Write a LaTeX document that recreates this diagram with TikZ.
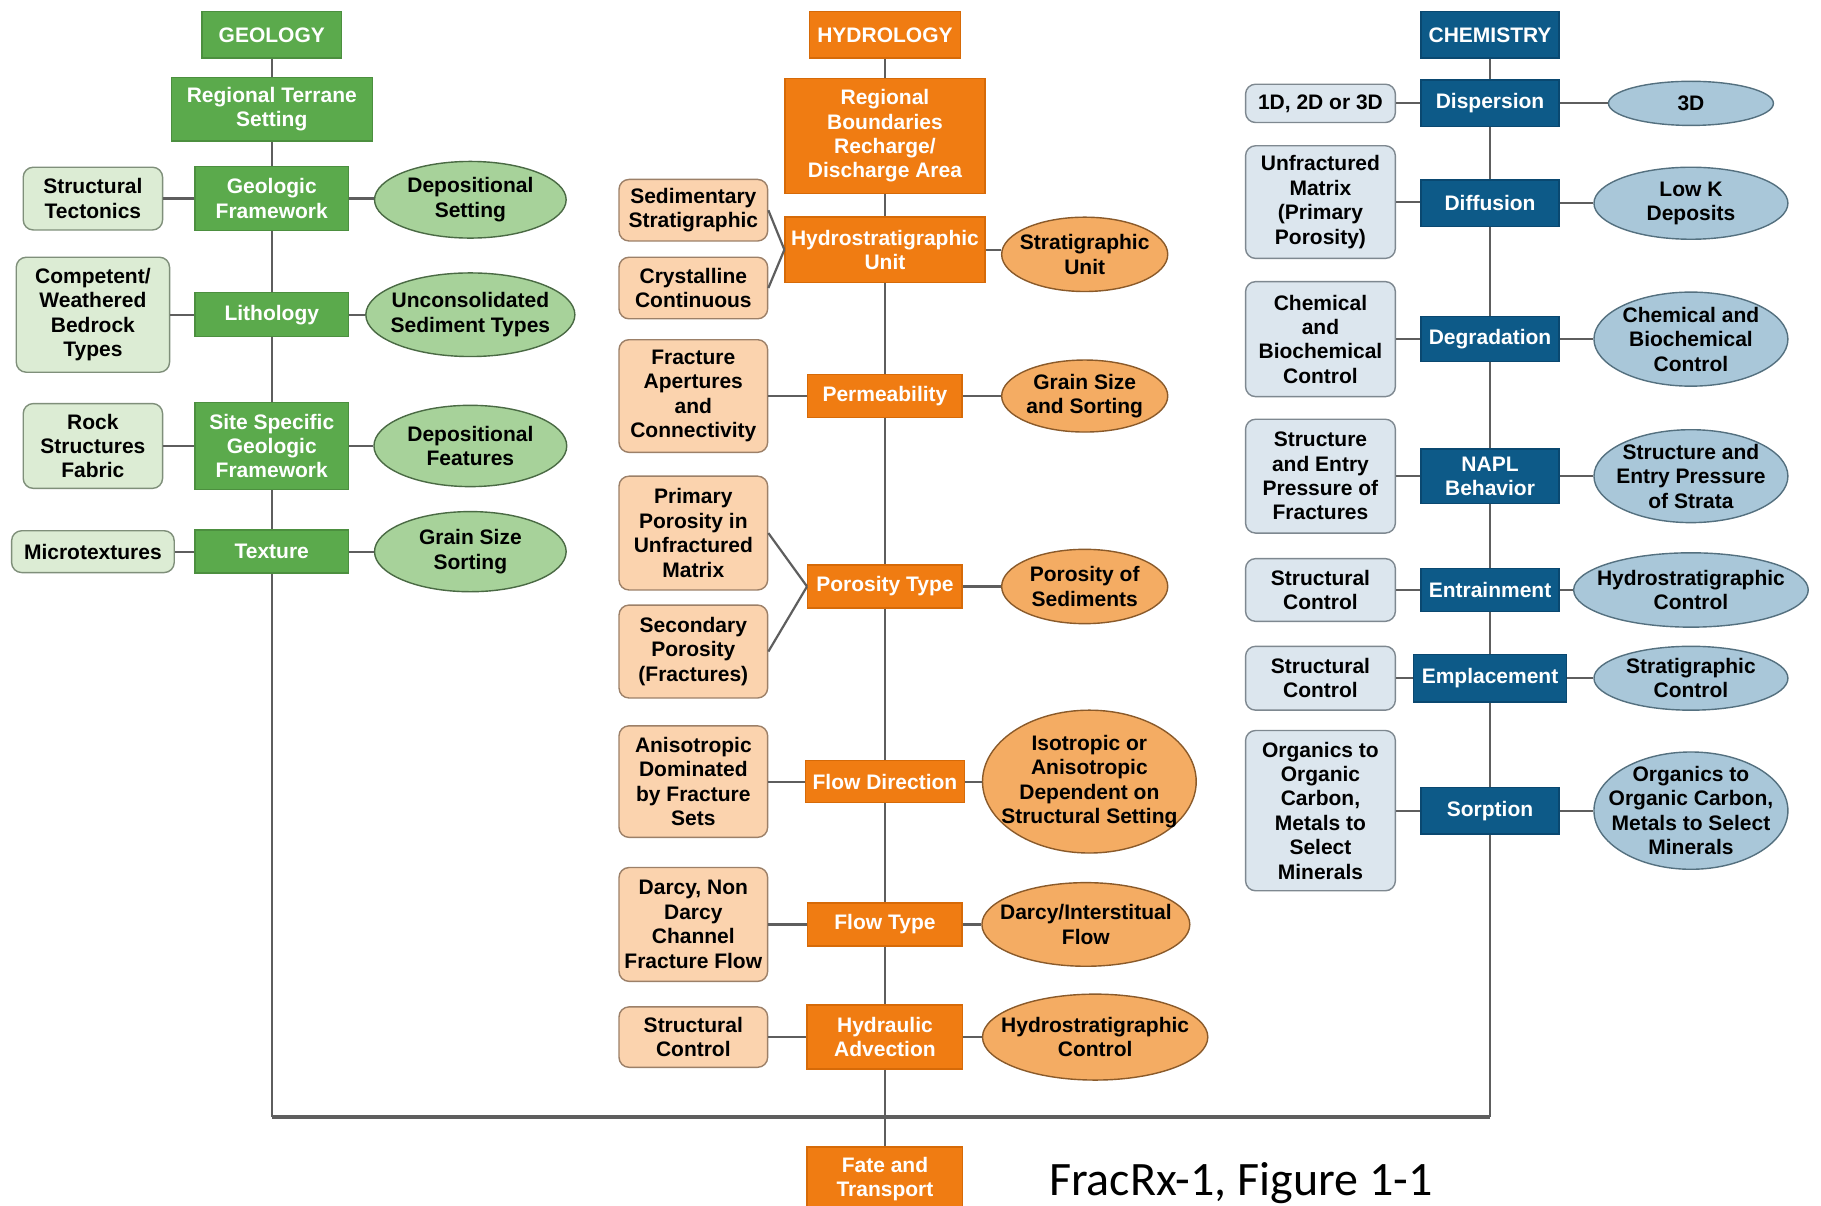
\documentclass[tikz,border=0pt]{standalone}
\usepackage{fontspec}
\setmainfont{Liberation Sans}
\newfontfamily\capfont{Carlito}
\usetikzlibrary{shapes.geometric}
\definecolor{geoM}{HTML}{5BAA4C}
\definecolor{geoMd}{HTML}{4C8F3F}
\definecolor{geoL}{HTML}{DCECD4}
\definecolor{geoLd}{HTML}{7F8F7A}
\definecolor{geoE}{HTML}{A7D29A}
\definecolor{geoEd}{HTML}{4A6A44}
\definecolor{hydM}{HTML}{F07C12}
\definecolor{hydMd}{HTML}{D66A08}
\definecolor{hydL}{HTML}{FBD3AE}
\definecolor{hydLd}{HTML}{9C8068}
\definecolor{hydE}{HTML}{F4AC63}
\definecolor{hydEd}{HTML}{8A5A2A}
\definecolor{chmM}{HTML}{0D5A88}
\definecolor{chmMd}{HTML}{0A4870}
\definecolor{chmL}{HTML}{DCE6EE}
\definecolor{chmLd}{HTML}{7E8890}
\definecolor{chmE}{HTML}{A9C7D9}
\definecolor{chmEd}{HTML}{54707F}
\definecolor{lineC}{HTML}{5E5E5E}
% ellipse of fixed size with its text set in a separate node at its centre
\newcommand\EllNode[6]{%
  \node[#1, sz={#2}{#3}] (#4) at (#5) {};
  \node[base] (#4T) at (#4.center) {#6};}
\begin{document}
\begin{tikzpicture}[x=0.5807pt,y=-0.5807pt,
  base/.style={align=center, inner sep=0pt, font=\fontsize{10.5}{12.2}\selectfont\bfseries, line width=0.7pt},
  sz/.style 2 args={minimum width=#1*0.5807pt, minimum height=#2*0.5807pt},
  geomain/.style={base, rectangle, fill=geoM, draw=geoMd, text=white},
  geoside/.style={base, rectangle, rounded corners=5pt, fill=geoL, draw=geoLd, text=black},
  geoell/.style={base, ellipse, fill=geoE, draw=geoEd, text=black},
  hydmain/.style={base, rectangle, fill=hydM, draw=hydMd, text=white},
  hydside/.style={base, rectangle, rounded corners=5pt, fill=hydL, draw=hydLd, text=black},
  hydell/.style={base, ellipse, fill=hydE, draw=hydEd, text=black},
  chmmain/.style={base, rectangle, fill=chmM, draw=chmMd, text=white},
  chmside/.style={base, rectangle, rounded corners=5pt, fill=chmL, draw=chmLd, text=black},
  chmell/.style={base, ellipse, fill=chmE, draw=chmEd, text=black},
  conn/.style={draw=lineC, line width=1.1pt},
  bottomline/.style={draw=lineC, line width=1.8pt}
]
\useasboundingbox (0,0) rectangle (1568,1038);
\fill[white] (0,0) rectangle (1568,1038);
\clip (0,0) rectangle (1568,1038);

% ---------------- GEOLOGY ----------------
\node[geomain, sz={120}{40}] (geo) at (234,30) {GEOLOGY};
\node[geomain, sz={173}{55}] (grts) at (234,94) {Regional Terrane\\Setting};
\node[geomain, sz={132}{55}] (ggf) at (234,171) {Geologic\\Framework};
\node[geoside, sz={120}{54}] (gst) at (80,171) {Structural\\Tectonics};
\EllNode{geoell}{165}{66}{gds}{405,172}{Depositional\\Setting}
\node[geomain, sz={132}{38}] (glith) at (234,271) {Lithology};
\node[geoside, sz={132}{99}] (gcwb) at (80,271) {Competent/\\Weathered\\Bedrock\\Types};
\EllNode{geoell}{180}{72}{gust}{405,271}{Unconsolidated\\Sediment Types}
\node[geomain, sz={132}{75}] (gssf) at (234,384) {Site Specific\\Geologic\\Framework};
\node[geoside, sz={120}{73}] (grsf) at (80,384) {Rock\\Structures\\Fabric};
\EllNode{geoell}{166}{70}{gdf}{405,384}{Depositional\\Features}
\node[geomain, sz={132}{37}] (gtex) at (234,475) {Texture};
\node[geoside, sz={140}{36}] (gmic) at (80,475) {Microtextures};
\EllNode{geoell}{165}{69}{ggss}{405,475}{Grain Size\\Sorting}

% ---------------- HYDROLOGY ----------------
\node[hydmain, sz={130}{40}] (hyd) at (762,30) {HYDROLOGY};
\node[hydmain, sz={172}{99}] (hrb) at (762,117) {Regional\\Boundaries\\Recharge/\\Discharge Area};
\node[hydmain, sz={172}{56}] (hhsu) at (762,215) {Hydrostratigraphic\\Unit};
\node[hydside, sz={128}{53}] (hsed) at (597,181) {Sedimentary\\Stratigraphic};
\node[hydside, sz={128}{53}] (hcry) at (597,248) {Crystalline\\Continuous};
\EllNode{hydell}{143}{64}{hsu}{934,219}{Stratigraphic\\Unit}
\node[hydmain, sz={133}{37}] (hperm) at (762,341) {Permeability};
\node[hydside, sz={128}{97}] (hfac) at (597,341) {Fracture\\Apertures\\and\\Connectivity};
\EllNode{hydell}{143}{62}{hgss}{934,341}{Grain Size\\and Sorting}
\node[hydmain, sz={133}{37}] (hpor) at (762,505) {Porosity Type};
\node[hydside, sz={128}{98}] (hprim) at (597,459) {Primary\\Porosity in\\Unfractured\\Matrix};
\node[hydside, sz={128}{80}] (hsec) at (597,561) {Secondary\\Porosity\\(Fractures)};
\EllNode{hydell}{143}{64}{hpos}{934,505}{Porosity of\\Sediments}
\node[hydmain, sz={137}{36}] (hfd) at (762,673) {Flow Direction};
\node[hydside, sz={128}{96}] (hadf) at (597,673) {Anisotropic\\Dominated\\by Fracture\\Sets};
\EllNode{hydell}{184}{123}{hiso}{938,673}{Isotropic or\\Anisotropic\\Dependent on\\Structural Setting}
\node[hydmain, sz={133}{37}] (hft) at (762,796) {Flow Type};
\node[hydside, sz={128}{98}] (hdar) at (597,796) {Darcy, Non\\Darcy\\Channel\\Fracture Flow};
\EllNode{hydell}{179}{72}{hdif}{935,796}{Darcy/Interstitual\\Flow}
\node[hydmain, sz={134}{55}] (hadv) at (762,893) {Hydraulic\\Advection};
\node[hydside, sz={128}{52}] (hstc) at (597,893) {Structural\\Control};
\EllNode{hydell}{194}{74}{hhsc}{943,893}{Hydrostratigraphic\\Control}
\node[hydmain, anchor=north, minimum width=134*0.5807pt, inner ysep=5pt] (fate) at (762,987) {Fate and\\Transport};

% ---------------- CHEMISTRY ----------------
\node[chmmain, sz={119}{40}] (chem) at (1283,30) {CHEMISTRY};
\node[chmmain, sz={119}{40}] (cdisp) at (1283,89) {Dispersion};
\node[chmside, sz={129}{33}] (c123) at (1137,89) {1D, 2D or 3D};
\EllNode{chmell}{142}{38}{c3d}{1456,89}{3D}
\node[chmmain, sz={119}{40}] (cdiff) at (1283,175) {Diffusion};
\node[chmside, sz={129}{97}] (cufm) at (1137,174) {Unfractured\\Matrix\\(Primary\\Porosity)};
\EllNode{chmell}{167}{62}{clk}{1456,175}{Low K\\Deposits}
\node[chmmain, sz={119}{39}] (cdeg) at (1283,292) {Degradation};
\node[chmside, sz={129}{99}] (ccbc) at (1137,292) {Chemical\\and\\Biochemical\\Control};
\EllNode{chmell}{167}{81}{ccbe}{1456,292}{Chemical and\\Biochemical\\Control}
\node[chmmain, sz={119}{47}] (cnapl) at (1283,410) {NAPL\\Behavior};
\node[chmside, sz={129}{98}] (csef) at (1137,410) {Structure\\and Entry\\Pressure of\\Fractures};
\EllNode{chmell}{167}{80}{csee}{1456,410}{Structure and\\Entry Pressure\\of Strata}
\node[chmmain, sz={119}{37}] (centr) at (1283,508) {Entrainment};
\node[chmside, sz={129}{54}] (cstc1) at (1137,508) {Structural\\Control};
\EllNode{chmell}{202}{64}{chsc}{1456,508}{Hydrostratigraphic\\Control}
\node[chmmain, sz={132}{41}] (cemp) at (1283,584) {Emplacement};
\node[chmside, sz={129}{55}] (cstc2) at (1137,584) {Structural\\Control};
\EllNode{chmell}{167}{55}{cstr}{1456,584}{Stratigraphic\\Control}
\node[chmmain, sz={119}{40}] (csorp) at (1283,698) {Sorption};
\node[chmside, sz={129}{138}] (cocs) at (1137,698) {Organics to\\Organic\\Carbon,\\Metals to\\Select\\Minerals};
\EllNode{chmell}{167}{101}{coce}{1456,698}{Organics to\\Organic Carbon,\\Metals to Select\\Minerals}

% caption
\node[anchor=base west, inner sep=0pt, font=\capfont\fontsize{24}{28}\selectfont] (cap) at (903,1029) {FracRx-1, Figure 1-1};

% ---------------- connectors ----------------
\coordinate (gB) at (234,962);
\coordinate (cB) at (1283,962);
% geology spine
\draw[conn] (geo) -- (grts);
\draw[conn] (grts) -- (ggf);
\draw[conn] (ggf) -- (glith);
\draw[conn] (glith) -- (gssf);
\draw[conn] (gssf) -- (gtex);
\draw[conn] (gtex.south) -- (gB);
\draw[conn] (gst.east) -- (ggf.west);
\draw[conn] (ggf.east) -- (ggf.east -| gds.west);
\draw[conn] (gcwb.east) -- (glith.west);
\draw[conn] (glith.east) -- (glith.east -| gust.west);
\draw[conn] (grsf.east) -- (gssf.west);
\draw[conn] (gssf.east) -- (gssf.east -| gdf.west);
\draw[conn] (gmic.east) -- (gtex.west);
\draw[conn] (gtex.east) -- (gtex.east -| ggss.west);
% hydrology spine
\draw[conn] (hyd) -- (hrb);
\draw[conn] (hrb) -- (hhsu);
\draw[conn] (hhsu) -- (hperm);
\draw[conn] (hperm) -- (hpor);
\draw[conn] (hpor) -- (hfd);
\draw[conn] (hfd) -- (hft);
\draw[conn] (hft) -- (hadv);
\draw[conn] (hadv) -- (fate);
\draw[conn] (hsed.east) -- (hhsu.west);
\draw[conn] (hcry.east) -- (hhsu.west);
\draw[conn] (hhsu.east) -- (hhsu.east -| hsu.west);
\draw[conn] (hfac.east) -- (hperm.west);
\draw[conn] (hperm.east) -- (hperm.east -| hgss.west);
\draw[conn] (hprim.east) -- (hpor.west);
\draw[conn] (hsec.east) -- (hpor.west);
\draw[conn] (hpor.east) -- (hpor.east -| hpos.west);
\draw[conn] (hadf.east) -- (hfd.west);
\draw[conn] (hfd.east) -- (hfd.east -| hiso.west);
\draw[conn] (hdar.east) -- (hft.west);
\draw[conn] (hft.east) -- (hft.east -| hdif.west);
\draw[conn] (hstc.east) -- (hadv.west);
\draw[conn] (hadv.east) -- (hadv.east -| hhsc.west);
% chemistry spine
\draw[conn] (chem) -- (cdisp);
\draw[conn] (cdisp) -- (cdiff);
\draw[conn] (cdiff) -- (cdeg);
\draw[conn] (cdeg) -- (cnapl);
\draw[conn] (cnapl) -- (centr);
\draw[conn] (centr) -- (cemp);
\draw[conn] (cemp) -- (csorp);
\draw[conn] (csorp.south) -- (cB);
\draw[conn] (c123.east) -- (c123.east -| cdisp.west);
\draw[conn] (cdisp.east) -- (cdisp.east -| c3d.west);
\draw[conn] (cufm.east) -- (cufm.east -| cdiff.west);
\draw[conn] (cdiff.east) -- (cdiff.east -| clk.west);
\draw[conn] (ccbc.east) -- (cdeg.west);
\draw[conn] (cdeg.east) -- (cdeg.east -| ccbe.west);
\draw[conn] (csef.east) -- (cnapl.west);
\draw[conn] (cnapl.east) -- (cnapl.east -| csee.west);
\draw[conn] (cstc1.east) -- (centr.west);
\draw[conn] (centr.east) -- (centr.east -| chsc.west);
\draw[conn] (cstc2.east) -- (cemp.west);
\draw[conn] (cemp.east) -- (cemp.east -| cstr.west);
\draw[conn] (cocs.east) -- (csorp.west);
\draw[conn] (csorp.east) -- (csorp.east -| coce.west);
% bottom collector
\draw[bottomline] (gB) -- (cB);
\end{tikzpicture}
\end{document}
